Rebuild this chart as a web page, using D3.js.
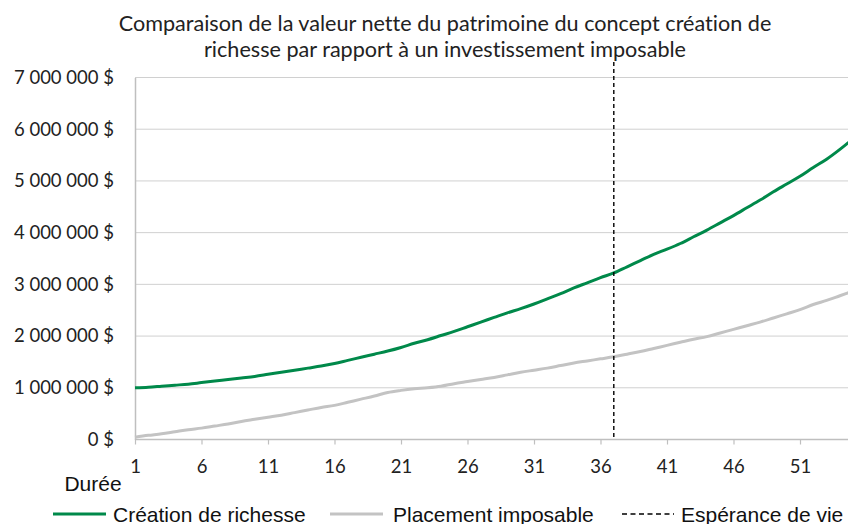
<!DOCTYPE html>
<html><head><meta charset="utf-8">
<script src="https://cdn.jsdelivr.net/npm/d3@7"></script>
<style>body{margin:0;background:#fff}svg{display:block}text{font-variant-ligatures:none}</style>
</head><body>
<svg id="c" width="848" height="524"></svg>
<script>
const titleLines = ["Comparaison de la valeur nette du patrimoine du concept création de", "richesse par rapport à un investissement imposable"];
const years = d3.range(1, 56);
const creation = [1.00,1.01,1.03,1.05,1.07,1.10,1.13,1.16,1.19,1.22,1.26,1.30,1.34,1.38,1.42,1.47,1.53,1.59,1.65,1.71,1.78,1.86,1.93,2.01,2.09,2.18,2.27,2.36,2.45,2.53,2.62,2.72,2.82,2.93,3.03,3.13,3.22,3.34,3.46,3.58,3.68,3.79,3.92,4.05,4.19,4.33,4.48,4.63,4.79,4.94,5.09,5.26,5.42,5.61,5.82].map(v=>v*1e6);
const placement = [0.045,0.08,0.11,0.15,0.19,0.22,0.26,0.30,0.35,0.39,0.43,0.47,0.52,0.57,0.62,0.66,0.72,0.78,0.84,0.91,0.95,0.98,1.00,1.03,1.08,1.12,1.16,1.20,1.25,1.30,1.34,1.38,1.43,1.48,1.52,1.56,1.60,1.65,1.70,1.76,1.82,1.88,1.94,1.99,2.06,2.13,2.20,2.27,2.35,2.43,2.51,2.61,2.69,2.78,2.87].map(v=>v*1e6);
const esperance = 37;
const yTicks = [0,1e6,2e6,3e6,4e6,5e6,6e6,7e6];
const xTicks = [1,6,11,16,21,26,31,36,41,46,51];
const xTitle = "Durée";
const legendItems = ["Création de richesse","Placement imposable","Espérance de vie"];

const svg = d3.select("#c");
const x = d3.scaleLinear().domain([1,55]).range([135, 135+54*13.3]);
const y = d3.scaleLinear().domain([0,7e6]).range([439.5, 77.5]);
const fmt = v => (v===0 ? "0" : d3.format(",")(v).replace(/,/g, "\u00a0")) + "\u00a0$";

// gridlines
svg.append("g").selectAll("line").data(yTicks.slice(1)).join("line")
  .attr("x1", 135).attr("x2", 848).attr("y1", d=>y(d)).attr("y2", d=>y(d))
  .attr("stroke", "#d0d0d0").attr("stroke-width", 1);

// y axis
const ya = svg.append("g").attr("transform","translate(135,0)")
  .call(d3.axisLeft(y).tickValues(yTicks).tickSize(0).tickPadding(21).tickFormat(fmt));
ya.select(".domain").attr("stroke","#bfbfbf").attr("stroke-width",1.5);
ya.selectAll("text").attr("font-family","Lato, sans-serif").attr("font-size",18.5).attr("fill","#222");

// x axis
const xa = svg.append("g").attr("transform","translate(0,439.5)")
  .call(d3.axisBottom(x).tickValues(xTicks).tickSize(5).tickSizeOuter(0).tickPadding(15).tickFormat(d3.format("d")));
xa.select(".domain").attr("stroke","#bfbfbf").attr("stroke-width",1.5).attr("d","M135,0H848");
xa.selectAll(".tick line").attr("stroke","#bfbfbf").attr("stroke-width",1.2);
xa.selectAll("text").attr("font-family","Lato, sans-serif").attr("font-size",18.5).attr("fill","#222");

svg.append("text").attr("x",93).attr("y",491).attr("text-anchor","middle")
  .attr("font-family","Liberation Sans, Arial, sans-serif").attr("font-size",21).attr("fill","#111").text(xTitle);

// lines
const line = d3.line().x((d,i)=>x(years[i])).y(d=>y(d)).curve(d3.curveMonotoneX);
svg.append("path").datum(placement).attr("d",line).attr("fill","none").attr("stroke","#c3c3c3").attr("stroke-width",3);
svg.append("path").datum(creation).attr("d",line).attr("fill","none").attr("stroke","#00894a").attr("stroke-width",3);

// esperance
svg.append("line").attr("x1",x(esperance)).attr("x2",x(esperance)).attr("y1",62).attr("y2",y(0))
  .attr("stroke","#000").attr("stroke-width",1.4).attr("stroke-dasharray","4,3");

// title
svg.append("text").attr("text-anchor","middle").attr("font-family","Lato, sans-serif").attr("font-size",21.6).attr("fill","#222")
  .selectAll("tspan").data(titleLines).join("tspan").attr("x",445).attr("y",(d,i)=>31+i*26).text(d=>d);

// legend
const lg = svg.append("g").attr("font-family","Liberation Sans, Arial, sans-serif").attr("font-size",21).attr("fill","#111");
const legendPos = [{lx:53, tx:113, stroke:"#00894a", dash:null},{lx:330, tx:393, stroke:"#c3c3c3", dash:null},{lx:622, tx:681, stroke:"#000", dash:"5,3.5"}];
legendItems.forEach((t,i)=>{
  const p = legendPos[i];
  lg.append("line").attr("x1",p.lx).attr("x2",p.lx+(i==2?52:53)).attr("y1",514).attr("y2",514)
    .attr("stroke",p.stroke).attr("stroke-width", i==2?1.4:3).attr("stroke-dasharray",p.dash);
  lg.append("text").attr("x",p.tx).attr("y",521.5).text(t);
});
</script>
</body></html>
